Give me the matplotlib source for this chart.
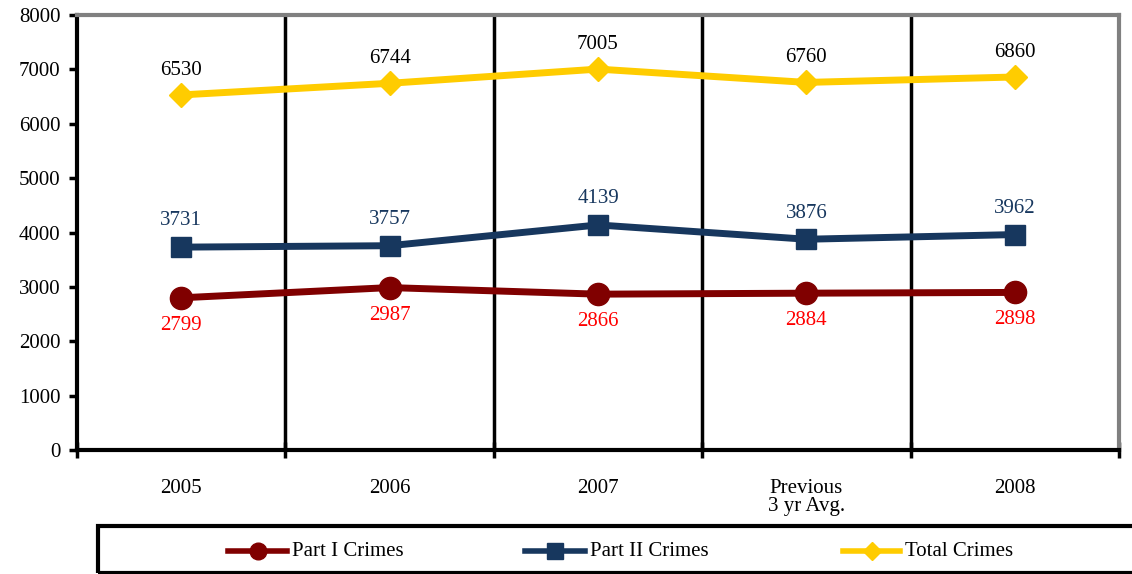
import matplotlib
matplotlib.use("Agg")
import matplotlib.pyplot as plt
from matplotlib.patches import Rectangle
from matplotlib.lines import Line2D

categories = ["2005", "2006", "2007", "Previous\n3 yr Avg.", "2008"]
part1 = [2799, 2987, 2866, 2884, 2898]
part2 = [3731, 3757, 4139, 3876, 3962]
total = [6530, 6744, 7005, 6760, 6860]
yticks = [0, 1000, 2000, 3000, 4000, 5000, 6000, 7000, 8000]

plt.rcParams['font.family'] = ['Liberation Serif', 'DejaVu Serif']
FS = 15

c1 = "#800000"
c2 = "#17375E"
c3 = "#FFCC00"

fig = plt.figure(figsize=(11.32, 5.74), dpi=100)
ax = fig.add_axes([77/1132, 1-450/574, (1119-77)/1132, (450-15)/574])

x = list(range(len(categories)))
ax.plot(x, part1, color=c1, lw=5, marker='o', ms=16, zorder=3)
ax.plot(x, part2, color=c2, lw=5, marker='s', ms=15, zorder=3)
ax.plot(x, total, color=c3, lw=5, marker='D', ms=12, zorder=3)

for xi, v in zip(x, total):
    ax.annotate(str(v), (xi, v), xytext=(0, 11), textcoords='offset points',
                ha='center', va='bottom', fontsize=FS, color='black')
for xi, v in zip(x, part2):
    ax.annotate(str(v), (xi, v), xytext=(0, 12), textcoords='offset points',
                ha='center', va='bottom', fontsize=FS, color=c2)
for xi, v in zip(x, part1):
    ax.annotate(str(v), (xi, v), xytext=(0, -13), textcoords='offset points',
                ha='center', va='top', fontsize=FS, color='red')

ax.set_xlim(-0.5, len(categories) - 0.5)
ax.set_ylim(0, 8000)
ax.set_yticks(yticks)
ax.set_yticklabels([str(t) for t in yticks], fontsize=FS)

ax.set_xticks([i - 0.5 for i in range(len(categories) + 1)])
ax.set_xticklabels([])
ax.set_xticks(x, minor=True)
ax.set_xticklabels(categories, minor=True, fontsize=FS, linespacing=0.9)
ax.tick_params(axis='x', which='minor', length=0, pad=21)
ax.tick_params(axis='x', which='major', direction='inout', length=12, width=2.5)
ax.tick_params(axis='y', direction='out', length=6, width=2.5, pad=6)

for b in range(1, len(categories)):
    ax.axvline(b - 0.5, color='black', lw=2.5, zorder=1)

ax.spines['left'].set_linewidth(3)
ax.spines['bottom'].set_linewidth(3)
ax.spines['top'].set_color('#808080')
ax.spines['right'].set_color('#808080')
ax.spines['top'].set_linewidth(3)
ax.spines['right'].set_linewidth(3)

# legend box
fig.patches.append(Rectangle((98/1132, 1-573/574), (1140-98)/1132, (573-526)/574,
                             transform=fig.transFigure, fill=False, edgecolor='black',
                             lw=3, clip_on=False))
ly = 1 - 551/574
entries = [(228, 287, c1, 'o', 12, "Part I Crimes"),
           (525, 585, c2, 's', 11, "Part II Crimes"),
           (843, 900, c3, 'D', 9, "Total Crimes")]
for x0, x1, c, m, ms, lab in entries:
    fig.add_artist(Line2D([x0/1132, x1/1132], [ly, ly], color=c, lw=4,
                          transform=fig.transFigure))
    fig.add_artist(Line2D([(x0+x1)/2/1132], [ly], color=c, marker=m, ms=ms,
                          transform=fig.transFigure))
    fig.text((x1+5)/1132, ly, lab, fontsize=FS, va='center', ha='left')

fig.savefig("out.png", dpi=100)
